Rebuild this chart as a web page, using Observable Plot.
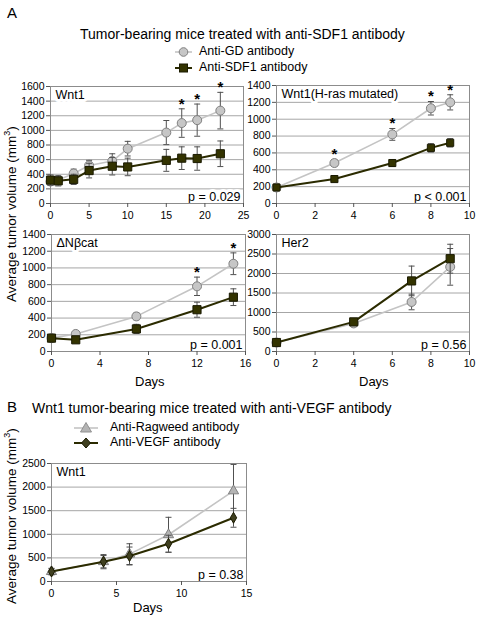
<!DOCTYPE html>
<html><head><meta charset="utf-8">
<script src="https://cdn.jsdelivr.net/npm/d3@7"></script>
<script src="https://cdn.jsdelivr.net/npm/@observablehq/plot@0.6"></script>
<style>
body{margin:0;background:#fff;font-family:"Liberation Sans",Arial,sans-serif;}
#root{position:relative;width:478px;height:618px;overflow:hidden;background:#fff;}
.abs{position:absolute;white-space:nowrap;color:#000;line-height:1;}
</style></head><body><div id="root"></div>
<script>
// ---------- data ----------
const wnt1Days   = [0, 1, 3, 5, 8, 10, 15, 17, 19, 22];
const wnt1GD     = [300, 320, 410, 520, 580, 750, 970, 1100, 1140, 1270];
const wnt1GDErr  = [50, 50, 60, 70, 100, 100, 165, 195, 220, 250];
const wnt1SDF1   = [320, 310, 330, 450, 510, 500, 590, 620, 615, 680];
const wnt1SDF1Err= [70, 70, 70, 100, 120, 120, 150, 155, 160, 175];
const wnt1Stars  = [17, 19, 22];

const hrasDays   = [0, 3, 6, 8, 9];
const hrasGD     = [190, 480, 820, 1130, 1200];
const hrasGDErr  = [20, 40, 70, 80, 90];
const hrasSDF1   = [190, 290, 480, 660, 720];
const hrasSDF1Err= [20, 30, 40, 50, 50];
const hrasStars  = [3, 6, 8, 9];

const dnDays     = [0, 2, 7, 12, 15];
const dnGD       = [160, 210, 420, 780, 1050];
const dnGDErr    = [20, 20, 40, 110, 130];
const dnSDF1     = [160, 140, 270, 500, 650];
const dnSDF1Err  = [30, 20, 55, 90, 100];
const dnStars    = [12, 15];

const her2Days   = [0, 4, 7, 9];
const her2GD     = [230, 720, 1270, 2170];
const her2GDErr  = [30, 60, 200, 470];
const her2SDF1   = [230, 760, 1810, 2380];
const her2SDF1Err= [40, 70, 380, 370];
const her2Stars  = [];

const vegfDays   = [0, 4, 6, 9, 14];
const vegfRag    = [210, 420, 580, 990, 1920];
const vegfRagErr = [60, 150, 220, 370, 560];
const vegfVEGF   = [210, 420, 540, 800, 1350];
const vegfVEGFErr= [70, 130, 190, 180, 200];
const vegfStars  = [];

const ticks1600 = [0,200,400,600,800,1000,1200,1400,1600];
const ticks1400 = [0,200,400,600,800,1000,1200,1400];
const ticks3000 = [0,500,1000,1500,2000,2500,3000];
const ticks2500 = [0,500,1000,1500,2000,2500];

// ---------- helpers ----------
const root = document.getElementById("root");
const FONT = '"Liberation Sans", Arial, sans-serif';
const capSym = {draw(ctx, size){ const w = Math.sqrt(size/Math.PI); ctx.moveTo(-w,0); ctx.lineTo(w,0); }};
const GRAY_LINE = "#c4c4c4", GRAY_FILL = "#c6c6c6", GRAY_STROKE = "#808080";
const DARK_LINE = "#2b2b00", DARK_FILL = "#333300", DARK_STROKE = "#1a1a00";
const ERR = "#505050";
const fmt = d3.format("d");

function rows(days, v, e){ return days.map((d,i)=>({day:d, v:v[i], e:e[i]})); }

function addText(html, left, top, size, extra=""){
  const d = document.createElement("div");
  d.className = "abs";
  d.style.cssText = `left:${left}px;top:${top}px;font-size:${size}px;${extra}`;
  d.innerHTML = html;
  root.appendChild(d);
  return d;
}

function panel(o){
  const ML=44, MT=16, MR=14, MB=28;
  const A = rows(o.days, o.a, o.aErr), B = rows(o.days, o.b, o.bErr);
  const starRows = A.filter(r => o.stars.includes(r.day));
  const errMarks = (R) => [
    Plot.ruleX(R, {x:"day", y1:d=>d.v-d.e, y2:d=>d.v+d.e, stroke:ERR, strokeWidth:1}),
    Plot.dot(R, {x:"day", y:d=>d.v+d.e, symbol:capSym, r:3, stroke:ERR, fill:"none", strokeWidth:1}),
    Plot.dot(R, {x:"day", y:d=>d.v-d.e, symbol:capSym, r:3, stroke:ERR, fill:"none", strokeWidth:1})
  ];
  const svg = Plot.plot({
    width: ML+o.w+MR, height: MT+o.h+MB,
    marginLeft:ML, marginTop:MT, marginRight:MR, marginBottom:MB,
    style:{fontFamily:FONT, background:"transparent", overflow:"visible", color:"#000"},
    x:{domain:o.xDomain}, y:{domain:o.yDomain},
    marks:[
      Plot.gridY(o.yTicks, {stroke:"#a6a6a6", strokeOpacity:1}),
      Plot.text([o.label], {frameAnchor:"top-left", text:d=>d, dx:5, dy:4, fontSize:12.5, fill:"#000", stroke:"#fff", strokeWidth:6, textAnchor:"start"}),
      Plot.text([o.p], {frameAnchor:"bottom-right", text:d=>d, dx:-3, dy:-3, fontSize:12.5, fill:"#000", stroke:"#fff", strokeWidth:6, textAnchor:"end"}),
      Plot.frame({stroke:"#8c8c8c"}),
      Plot.axisY(o.yTicks, {tickSize:4, tickPadding:2, fontSize:10.5, label:null, stroke:"#555", tickFormat:fmt}),
      Plot.axisX(o.xTicks, {tickSize:4, tickPadding:4, fontSize:10.5, label:null, stroke:"#555", tickFormat:fmt}),
      ...errMarks(A),
      Plot.line(A, {x:"day", y:"v", stroke:GRAY_LINE, strokeWidth:1.6}),
      Plot.dot(A, {x:"day", y:"v", symbol:o.aSym, r:o.aR, fill:o.aFill || GRAY_FILL, stroke:GRAY_STROKE, strokeWidth:1}),
      ...errMarks(B),
      Plot.line(B, {x:"day", y:"v", stroke:DARK_LINE, strokeWidth:2}),
      Plot.dot(B, {x:"day", y:"v", symbol:o.bSym, r:o.bR, fill:o.bFill || DARK_FILL, stroke:DARK_STROKE, strokeWidth:1}),
      Plot.text(starRows, {x:"day", y:d=>d.v+d.e, text:()=>"*", dy:-5, fontSize:15, fontWeight:"bold", fill:"#000"})
    ]
  });
  svg.style.position = "absolute";
  svg.style.left = (o.left-ML)+"px";
  svg.style.top = (o.top-MT)+"px";
  root.appendChild(svg);
}

// ---------- panel A ----------
addText("A", 7, 5, 15);
addText("Tumor-bearing mice treated with anti-SDF1 antibody", 80, 27, 14);

function legendRow(x, y, sym, textX, label){
  const ns = "http://www.w3.org/2000/svg";
  const s = document.createElementNS(ns, "svg");
  s.setAttribute("width", 30); s.setAttribute("height", 16);
  s.style.cssText = `position:absolute;left:${x}px;top:${y-8}px;`;
  s.innerHTML = sym;
  root.appendChild(s);
  addText(label, textX, y-7, 12.5);
}
legendRow(174, 52, `<line x1="1" y1="8" x2="18" y2="8" stroke="${GRAY_LINE}" stroke-width="1.6"/><circle cx="9.5" cy="8" r="4.3" fill="${GRAY_FILL}" stroke="${GRAY_STROKE}"/>`, 199, "Anti-GD antibody");
legendRow(174, 68, `<line x1="1" y1="8" x2="18" y2="8" stroke="${DARK_LINE}" stroke-width="2"/><rect x="5.5" y="4" width="8" height="8" fill="${DARK_FILL}" stroke="${DARK_STROKE}"/>`, 199, "Anti-SDF1 antibody");

panel({left:50, top:86, w:193, h:117, xDomain:[0,25], xTicks:[0,5,10,15,20,25], yDomain:[0,1600], yTicks:ticks1600,
  days:wnt1Days, a:wnt1GD, aErr:wnt1GDErr, b:wnt1SDF1, bErr:wnt1SDF1Err, stars:wnt1Stars,
  label:"Wnt1", p:"p = 0.029", aSym:"circle", aR:4.5, bSym:"square", bR:4.6});
panel({left:276, top:85, w:193, h:118, xDomain:[0,10], xTicks:[0,2,4,6,8,10], yDomain:[0,1400], yTicks:ticks1400,
  days:hrasDays, a:hrasGD, aErr:hrasGDErr, b:hrasSDF1, bErr:hrasSDF1Err, stars:hrasStars,
  label:"Wnt1(H-ras mutated)", p:"p < 0.001", aSym:"circle", aR:4.5, bSym:"square", bR:4});
panel({left:51, top:234, w:194, h:117, xDomain:[0,16], xTicks:[0,4,8,12,16], yDomain:[0,1400], yTicks:ticks1400,
  days:dnDays, a:dnGD, aErr:dnGDErr, b:dnSDF1, bErr:dnSDF1Err, stars:dnStars,
  label:"ΔNβcat", p:"p = 0.001", aSym:"circle", aR:4.5, bSym:"square", bR:4.6});
panel({left:276, top:234, w:193, h:117, xDomain:[0,10], xTicks:[0,2,4,6,8,10], yDomain:[0,3000], yTicks:ticks3000,
  days:her2Days, a:her2GD, aErr:her2GDErr, b:her2SDF1, bErr:her2SDF1Err, stars:her2Stars,
  label:"Her2", p:"p = 0.56", aSym:"circle", aR:4.5, bSym:"square", bR:4.6});

addText("Days", 135, 375, 13);
addText("Days", 359, 375, 13);

const yl1 = addText("Average tumor volume (mm<sup style='font-size:9px'>3</sup>)", 0, 0, 13.5);
yl1.style.transformOrigin = "0 0";
yl1.style.left = "3px"; yl1.style.top = "302px";
yl1.style.transform = "rotate(-90deg)";

// ---------- panel B ----------
addText("B", 7, 399, 15);
addText("Wnt1 tumor-bearing mice treated with anti-VEGF antibody", 32, 401, 14);
legendRow(73, 428, `<line x1="1" y1="8" x2="25" y2="8" stroke="${GRAY_LINE}" stroke-width="1.6"/><path d="M13,2.5 L18.5,12 L7.5,12 Z" fill="#b4b4b4" stroke="#909090"/>`, 110, "Anti-Ragweed antibody");
legendRow(73, 443, `<line x1="1" y1="8" x2="25" y2="8" stroke="${DARK_LINE}" stroke-width="2"/><path d="M13,3 L17.5,8 L13,13 L8.5,8 Z" fill="#404020" stroke="${DARK_STROKE}"/>`, 110, "Anti-VEGF antibody");

panel({left:51, top:463, w:195, h:118, xDomain:[0,15], xTicks:[0,5,10,15], yDomain:[0,2500], yTicks:ticks2500,
  days:vegfDays, a:vegfRag, aErr:vegfRagErr, b:vegfVEGF, bErr:vegfVEGFErr, stars:vegfStars,
  label:"Wnt1", p:"p = 0.38", aSym:"triangle", aR:3.8, bSym:"diamond", bR:3.3, aFill:"#b4b4b4", bFill:"#404020"});

addText("Days", 133, 601, 13);
const yl2 = addText("Average tumor volume (mm<sup style='font-size:9px'>3</sup>)", 0, 0, 13.5);
yl2.style.transformOrigin = "0 0";
yl2.style.left = "3px"; yl2.style.top = "604px";
yl2.style.transform = "rotate(-90deg)";
</script></body></html>
